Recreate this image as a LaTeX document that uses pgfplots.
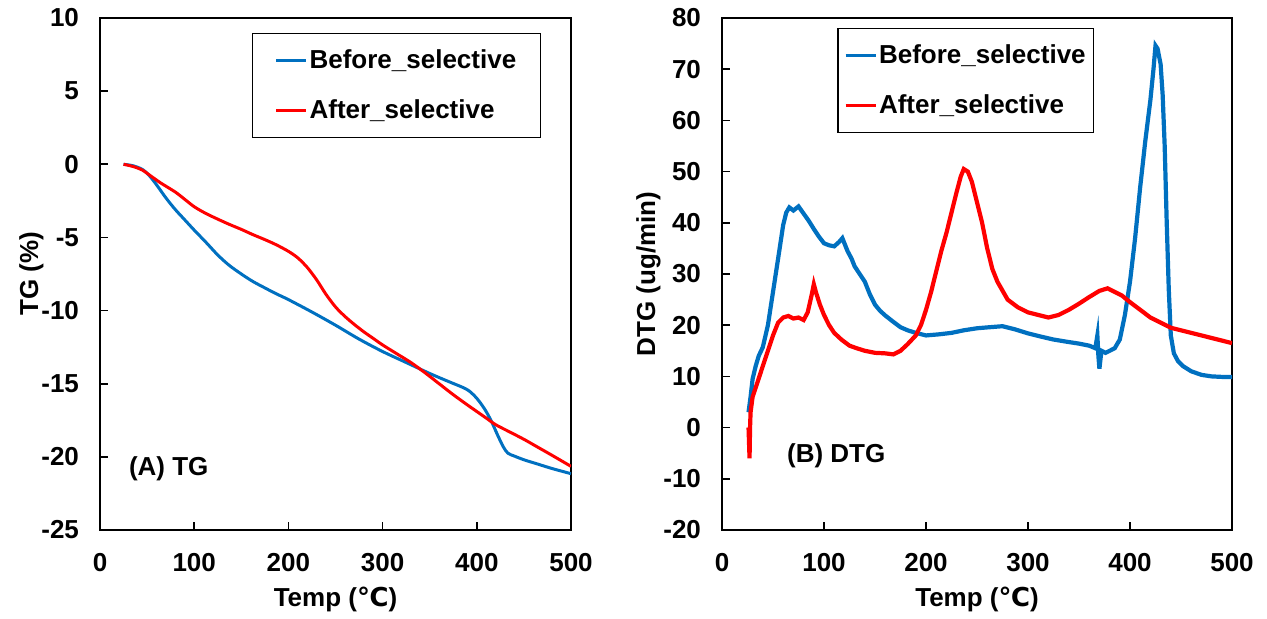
\documentclass[border=0pt]{standalone}
\usepackage{pgfplots}
\pgfplotsset{compat=1.18}
\usepackage{fontspec}
\setmainfont{Liberation Sans}
\newfontfamily\dejavu{DejaVu Sans}
\definecolor{xblue}{RGB}{0,112,192}
\definecolor{xred}{RGB}{255,0,0}
\newcommand{\degC}{{\dejavu\bfseries ℃}}
\begin{document}
\begin{tikzpicture}
\path (0,0) rectangle (633.5pt,309.5pt);
\pgfplotsset{
  every axis/.append style={
    scale only axis,
    font=\bfseries\fontsize{13}{15}\selectfont,
    tick pos=left, tick align=inside, major tick length=4pt,
    axis line style={line width=0.9pt}, tick style={line width=0.8pt, black},
    xmin=0, xmax=500, xtick={0,100,...,500},
    xticklabel style={yshift=-8pt},
    yticklabel style={xshift=-7pt},
    /pgf/number format/assume math mode=true,
    xlabel={Temp (\degC)},
    xlabel style={yshift=-1pt},
    legend cell align=left,
    legend image code/.code={\draw[#1] (0pt,0pt) -- (15pt,0pt);},
  }
}
% Left panel
\begin{axis}[at={(50pt,44.5pt)}, anchor=south west,
  width=235.5pt, height=256pt,
  ymin=-25, ymax=10, ytick={-25,-20,...,10},
  ylabel={TG (\%)},
  ylabel style={yshift=-8pt},
  legend style={at={(rel axis cs:0.936,0.971)}, anchor=north east, draw=black, line width=0.6pt,
    inner xsep=11pt, inner ysep=6pt, row sep=10pt, font=\bfseries\fontsize{13}{15}\selectfont,
    nodes={inner xsep=1pt}},
]
\addplot[xblue, line width=1.5pt, smooth] coordinates {
(25,0) (35,-0.1) (45,-0.35) (52,-0.75) (60,-1.4) (70,-2.3) (80,-3.1) (90,-3.8) (100,-4.5)
(112,-5.3) (125,-6.2) (137,-6.9) (150,-7.5) (162,-8.0) (175,-8.45) (187,-8.85) (200,-9.25)
(225,-10.1) (250,-11.0) (275,-11.95) (300,-12.8) (325,-13.55) (350,-14.3) (370,-14.85)
(385,-15.25) (392,-15.5) (400,-16.0) (408,-16.7) (415,-17.5) (422,-18.5) (428,-19.3) (433,-19.75)
(440,-19.95) (450,-20.2) (465,-20.5) (480,-20.8) (500,-21.15)
};
\addlegendentry{Before\_selective}
\addplot[xred, line width=1.5pt, smooth] coordinates {
(25,0) (35,-0.15) (45,-0.4) (55,-0.85) (65,-1.3) (80,-1.9) (90,-2.4) (100,-2.9) (112,-3.35)
(125,-3.75) (137,-4.1) (150,-4.45) (162,-4.8) (175,-5.15) (187,-5.5) (200,-5.95) (210,-6.4)
(220,-7.05) (230,-7.9) (240,-8.9) (250,-9.75) (260,-10.4) (270,-10.95) (280,-11.45) (290,-11.9)
(300,-12.35) (315,-12.95) (330,-13.55) (345,-14.25) (360,-15.0) (375,-15.75) (390,-16.45)
(400,-16.9) (410,-17.35) (420,-17.8) (435,-18.3) (450,-18.8) (465,-19.35) (480,-19.9) (500,-20.65)
};
\addlegendentry{After\_selective}
\node[font=\bfseries\fontsize{13}{15}\selectfont] at (axis cs:73,-20.8) {(A) TG};
\end{axis}
% Right panel
\begin{axis}[at={(361pt,44.5pt)}, anchor=south west,
  width=255pt, height=256pt,
  ymin=-20, ymax=80, ytick={-20,-10,...,80},
  ylabel={DTG (ug/min)},
  ylabel style={yshift=-5.5pt},
  legend style={at={(rel axis cs:0.73,0.98)}, anchor=north east, draw=black, line width=0.6pt,
    inner xsep=3pt, inner ysep=6pt, row sep=10pt, font=\bfseries\fontsize{13}{15}\selectfont,
    nodes={inner xsep=1pt}},
]
\addplot[xblue, line width=2.1pt, forget plot] coordinates {
(26,3) (28,6) (30,9.5) (33,12) (36,14) (40,15.7) (45,20) (50,26.5) (55,33) (60,39.6) (63,42)
(66,43) (70,42.4) (75,43.2) (80,41.8) (85,40.4) (90,38.8) (95,37.3) (100,36) (105,35.6) (110,35.4)
(115,36.3) (118,37) (120,36) (123,34.5) (127,33) (130,31.5) (135,30) (140,28.5) (145,26) (150,24)
(155,22.8) (160,21.9) (167,20.8) (175,19.6) (182,19) (190,18.5) (200,18) (212,18.2) (225,18.5)
(237,19) (250,19.4) (262,19.6) (275,19.8) (287,19.2) (300,18.4) (312,17.8) (325,17.2) (337,16.8)
(350,16.4) (360,16) (366,15.5) (368,18) (369,14) (370,11.5) (372,15) (376,14.6) (380,15) (385,15.5)
(390,17.2) (395,22) (400,28.5) (405,37) (410,47) (415,56) (420,64) (423,70) (425,74.6) (427,74)
(430,71) (432,65) (434,55) (436,40) (438,27) (440,18) (443,14.5) (447,13) (452,12) (460,11)
(470,10.3) (480,10) (490,9.9) (500,9.9)
};
\addlegendimage{xblue, line width=1.5pt}
\addlegendentry{Before\_selective}
\addplot[xred, line width=2.1pt, forget plot] coordinates {
(26,0) (27,-6) (27.5,0) (28,3) (30,6) (35,9) (40,12) (45,15) (50,18) (55,20.5) (60,21.5) (65,21.8)
(70,21.3) (75,21.5) (80,21) (84,22.5) (88,26) (90,28) (92,26.5) (96,24) (100,22) (105,20)
(110,18.5) (117,17.2) (125,16) (132,15.5) (140,15) (150,14.6) (160,14.5) (168,14.3) (175,15)
(182,16.3) (190,18) (195,20) (200,23) (205,26.5) (210,30.5) (215,34.5) (220,38) (225,42) (230,46)
(234,49) (237,50.5) (241,50) (245,48) (250,44) (255,40) (260,35) (265,31) (270,28.5) (280,25)
(290,23.5) (300,22.5) (310,22) (320,21.5) (330,22) (340,23) (350,24.2) (360,25.5) (370,26.7)
(378,27.2) (385,26.5) (392,25.8) (400,24.5) (410,23) (420,21.5) (430,20.5) (440,19.5) (450,19)
(460,18.5) (470,18) (480,17.5) (490,17) (500,16.5)
};
\addlegendimage{xred, line width=1.5pt}
\addlegendentry{After\_selective}
\node[font=\bfseries\fontsize{13}{15}\selectfont] at (axis cs:112,-5.6) {(B) DTG};
\end{axis}
\end{tikzpicture}
\end{document}
